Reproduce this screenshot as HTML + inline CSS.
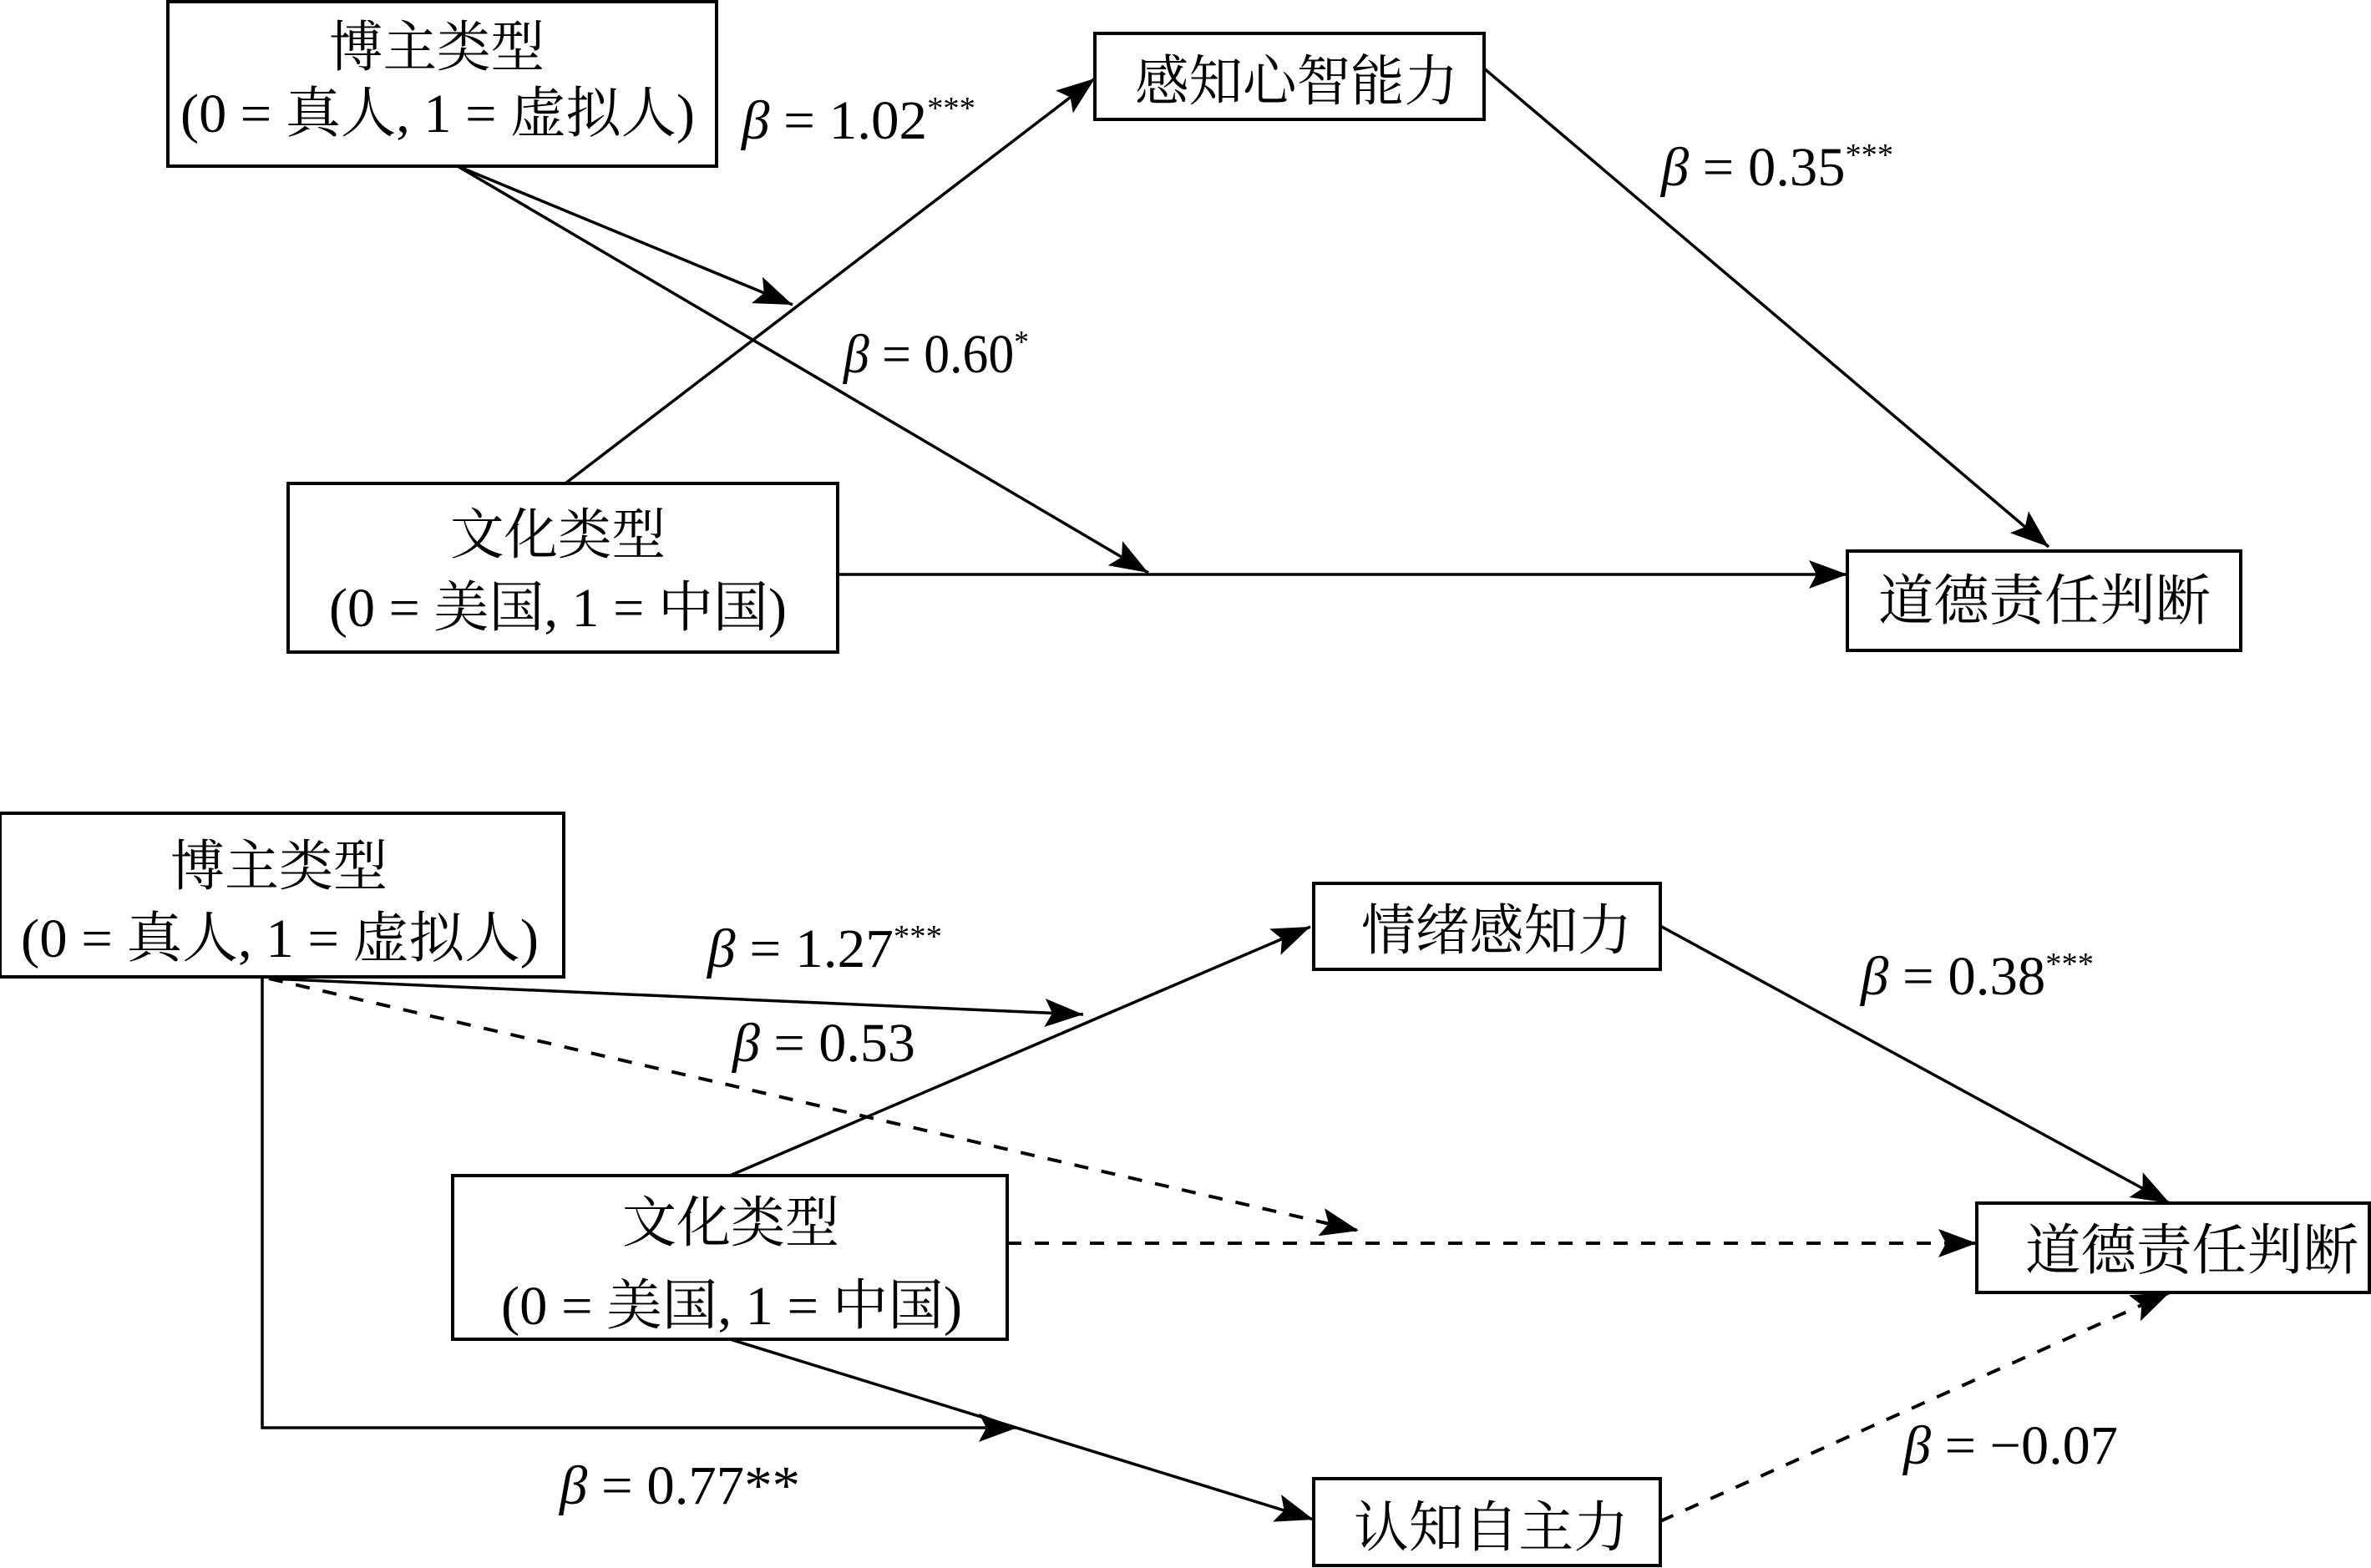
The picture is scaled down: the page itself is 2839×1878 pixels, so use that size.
<!DOCTYPE html>
<html><head><meta charset="utf-8"><style>
html,body{margin:0;padding:0;background:#fff;}
svg{display:block;}
svg text{font-family:'Liberation Serif','Noto Serif CJK SC',serif;font-size:66px;fill:#000;}
.b{font-style:italic;}
</style></head><body>
<svg width="2839" height="1878" viewBox="0 0 2839 1878" xmlns="http://www.w3.org/2000/svg" font-family="'Liberation Serif', 'Noto Serif CJK SC', serif">
<defs>
<marker id="a" markerUnits="userSpaceOnUse" markerWidth="50" markerHeight="36" refX="46" refY="17" orient="auto">
<path d="M0,0 L46,17 L0,34 L9,17 Z" fill="#000"/>
</marker>
</defs>
<g fill="none" stroke="#000" stroke-width="4">
<rect x="201" y="2" width="657" height="197"/>
<rect x="345" y="579" width="658" height="202"/>
<rect x="1311" y="40" width="466" height="103"/>
<rect x="2212" y="660" width="471" height="119"/>
<rect x="0" y="974" width="675" height="196"/>
<rect x="542" y="1408" width="664" height="196"/>
<rect x="1573" y="1058" width="415" height="103"/>
<rect x="1573" y="1771" width="415" height="104"/>
<rect x="2367" y="1441" width="470" height="107"/>
</g>
<g fill="none" stroke="#000" stroke-width="3.5">
<line x1="548" y1="199" x2="949" y2="365" marker-end="url(#a)"/>
<line x1="548" y1="199" x2="1375" y2="686" marker-end="url(#a)"/>
<line x1="677" y1="579" x2="1311" y2="94" marker-end="url(#a)"/>
<line x1="1003" y1="688" x2="2212" y2="688" marker-end="url(#a)"/>
<line x1="1777" y1="82" x2="2453" y2="655" marker-end="url(#a)"/>
<polyline points="314,1170 314,1710 1218,1710" marker-end="url(#a)"/>
<line x1="322" y1="1172" x2="1297" y2="1215" marker-end="url(#a)"/>
<line x1="874" y1="1408" x2="1569" y2="1110" marker-end="url(#a)"/>
<line x1="874" y1="1604" x2="1573" y2="1820" marker-end="url(#a)"/>
<line x1="1988" y1="1109" x2="2598" y2="1441" marker-end="url(#a)"/>
<g stroke-dasharray="17,16" stroke-width="4">
<line x1="322" y1="1172" x2="1627" y2="1474" marker-end="url(#a)"/>
<line x1="1206" y1="1489" x2="2367" y2="1489" marker-end="url(#a)"/>
<line x1="1988" y1="1822" x2="2598" y2="1548" marker-end="url(#a)"/>
</g>
</g>
<text x="394" y="79" textLength="258" lengthAdjust="spacingAndGlyphs">博主类型</text>
<text x="216" y="158" textLength="616" lengthAdjust="spacingAndGlyphs">(0 = 真人, 1 = 虚拟人)</text>
<text x="539" y="663" textLength="258" lengthAdjust="spacingAndGlyphs">文化类型</text>
<text x="394" y="750" textLength="548" lengthAdjust="spacingAndGlyphs">(0 = 美国, 1 = 中国)</text>
<text x="1359" y="120" textLength="387" lengthAdjust="spacingAndGlyphs">感知心智能力</text>
<text x="2249" y="742" textLength="398" lengthAdjust="spacingAndGlyphs">道德责任判断</text>
<text x="204" y="1060" textLength="260" lengthAdjust="spacingAndGlyphs">博主类型</text>
<text x="25" y="1146" textLength="620" lengthAdjust="spacingAndGlyphs">(0 = 真人, 1 = 虚拟人)</text>
<text x="745" y="1487" textLength="260" lengthAdjust="spacingAndGlyphs">文化类型</text>
<text x="600" y="1586" textLength="552" lengthAdjust="spacingAndGlyphs">(0 = 美国, 1 = 中国)</text>
<text x="1630" y="1137" textLength="324" lengthAdjust="spacingAndGlyphs">情绪感知力</text>
<text x="1621" y="1852" textLength="329" lengthAdjust="spacingAndGlyphs">认知自主力</text>
<text x="2425" y="1520" textLength="399" lengthAdjust="spacingAndGlyphs">道德责任判断</text>
<text x="888" y="166" textLength="280" lengthAdjust="spacingAndGlyphs"><tspan class="b">β</tspan> = 1.02<tspan font-size="38" dy="-24">***</tspan></text>
<text x="1010" y="446" textLength="222" lengthAdjust="spacingAndGlyphs"><tspan class="b">β</tspan> = 0.60<tspan font-size="38" dy="-24">*</tspan></text>
<text x="1989" y="222" textLength="278" lengthAdjust="spacingAndGlyphs"><tspan class="b">β</tspan> = 0.35<tspan font-size="38" dy="-24">***</tspan></text>
<text x="847" y="1158" textLength="281" lengthAdjust="spacingAndGlyphs"><tspan class="b">β</tspan> = 1.27<tspan font-size="38" dy="-24">***</tspan></text>
<text x="877" y="1271" textLength="219" lengthAdjust="spacingAndGlyphs"><tspan class="b">β</tspan> = 0.53</text>
<text x="670" y="1801" textLength="288" lengthAdjust="spacingAndGlyphs"><tspan class="b">β</tspan> = 0.77**</text>
<text x="2228" y="1191" textLength="279" lengthAdjust="spacingAndGlyphs"><tspan class="b">β</tspan> = 0.38<tspan font-size="38" dy="-24">***</tspan></text>
<text x="2279" y="1753" textLength="257" lengthAdjust="spacingAndGlyphs"><tspan class="b">β</tspan> = −0.07</text>
</svg>
</body></html>
